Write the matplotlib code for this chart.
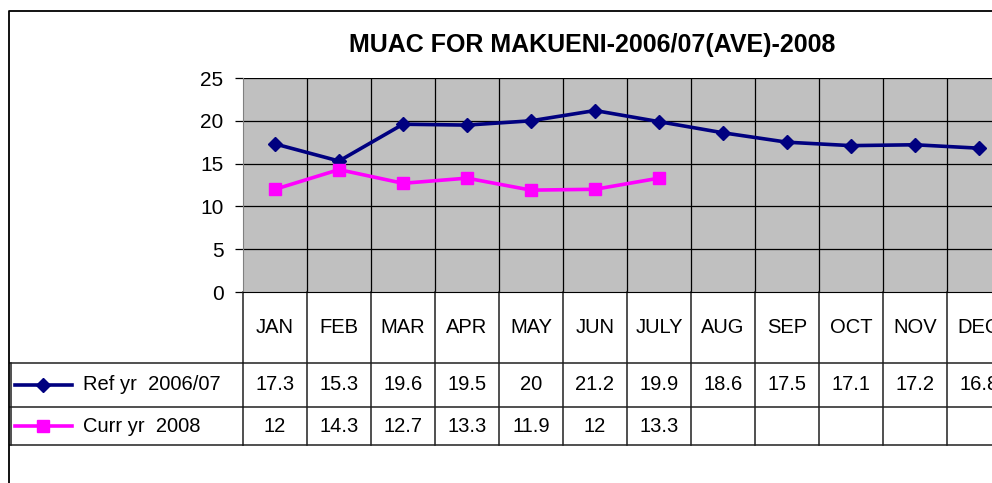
import matplotlib.pyplot as plt
import matplotlib.transforms as mtransforms
import numpy as np

plt.rcParams['font.family'] = ['Liberation Sans', 'DejaVu Sans']

months = ['JAN', 'FEB', 'MAR', 'APR', 'MAY', 'JUN', 'JULY', 'AUG', 'SEP', 'OCT', 'NOV', 'DEC']
ref_yr = [17.3, 15.3, 19.6, 19.5, 20, 21.2, 19.9, 18.6, 17.5, 17.1, 17.2, 16.8]
curr_yr = [12, 14.3, 12.7, 13.3, 11.9, 12, 13.3]
ref_label = 'Ref yr  2006/07'
curr_label = 'Curr yr  2008'
title = 'MUAC FOR MAKUENI-2006/07(AVE)-2008'

W, H = 992, 483
fig = plt.figure(figsize=(W / 100, H / 100), dpi=100)

def fx(px):
    return px / W

def fy(py):
    return 1 - py / H

# plot area in pixels: x 243..1011 (cut off on the right), y 78..292
ax = fig.add_axes([fx(243), fy(292), fx(1011) - fx(243), fy(78) - fy(292)])
ax.set_facecolor('#c0c0c0')
x = np.arange(len(months))
ax.plot(x, ref_yr, color='#000080', lw=2.6, marker='D', ms=7.5, zorder=3, clip_on=False)
ax.plot(np.arange(len(curr_yr)), curr_yr, color='#ff00ff', lw=2.6, marker='s', ms=8.5, zorder=3, clip_on=False)
ax.set_xlim(-0.5, len(months) - 0.5)
ax.set_ylim(0, 25)
ax.set_yticks([0, 5, 10, 15, 20, 25])
ax.set_yticklabels(['0', '5', '10', '15', '20', '25'], fontsize=15)
ax.set_xticks([])
for v in [5, 10, 15, 20, 25]:
    ax.axhline(v, color='black', lw=0.9, zorder=1)
for b in np.arange(0.5, len(months) - 0.5, 1):
    ax.axvline(b, color='black', lw=0.9, zorder=1)
ax.tick_params(axis='y', direction='out', length=6, width=0.9, pad=8)
for s in ['top', 'right']:
    ax.spines[s].set_visible(False)
ax.spines['left'].set_color('#808080')
ax.spines['bottom'].set_color('black')

fig.text(fx(592), fy(45), title, ha='center', va='center', fontsize=18, fontweight='bold')

# data table under the plot
tr = mtransforms.blended_transform_factory(ax.transData, fig.transFigure)
line_kw = dict(color='#202020', lw=1.1, clip_on=False)
y_top, y_hdr, y_ref, y_cur = fy(292), fy(363), fy(407), fy(445)
fs = 14.5
for b in np.arange(-0.5, len(months) + 0.5, 1):
    ax.plot([b, b], [y_top, y_cur], transform=tr, **line_kw)
for yy in [y_hdr, y_ref, y_cur]:
    ax.plot([-0.5, len(months) - 0.5], [yy, yy], transform=tr, **line_kw)
for i, m in enumerate(months):
    ax.text(i, (y_top + y_hdr) / 2, m, transform=tr, ha='center', va='center', fontsize=fs)
    ax.text(i, (y_hdr + y_ref) / 2, f'{ref_yr[i]:g}', transform=tr, ha='center', va='center', fontsize=fs)
    if i < len(curr_yr):
        ax.text(i, (y_ref + y_cur) / 2, f'{curr_yr[i]:g}', transform=tr, ha='center', va='center', fontsize=fs)

# legend keys column
for yy in [y_hdr, y_ref, y_cur]:
    fig.add_artist(plt.Line2D([fx(10), fx(243)], [yy, yy], color='#202020', lw=1.1))
fig.add_artist(plt.Line2D([fx(11), fx(11)], [y_hdr, y_cur], color='#202020', lw=1.1))
for yy, col, mk, ms, lab in [((y_hdr + y_ref) / 2, '#000080', 'D', 7.5, ref_label),
                             ((y_ref + y_cur) / 2, '#ff00ff', 's', 8.5, curr_label)]:
    fig.add_artist(plt.Line2D([fx(15), fx(72)], [yy, yy], color=col, lw=2.6))
    fig.add_artist(plt.Line2D([fx(43)], [yy], color=col, marker=mk, ms=ms, lw=0))
    fig.text(fx(83), yy, lab, ha='left', va='center', fontsize=fs)

# outer chart border
fig.add_artist(plt.Line2D([fx(9), fx(9), fx(1000)], [0, fy(11), fy(11)], color='black', lw=1.3))

fig.savefig('out.png', dpi=100)
